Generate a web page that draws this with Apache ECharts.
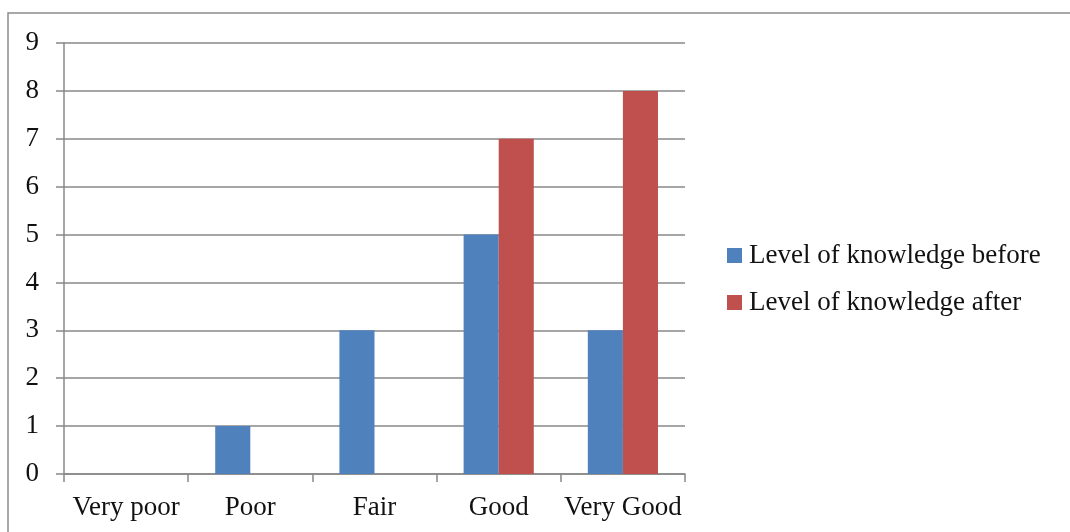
<!DOCTYPE html>
<html>
<head>
<meta charset="utf-8">
<script src="https://cdn.jsdelivr.net/npm/echarts@6/dist/echarts.min.js"></script>
<style>
  html, body { margin: 0; padding: 0; background: #fff; }
  #chart { width: 1070px; height: 532px; }
</style>
</head>
<body>
<div id="chart"></div>
<script>
// Knowledge ratings before and after
const categories = ['Very poor', 'Poor', 'Fair', 'Good', 'Very Good'];
const before = [0, 1, 3, 5, 3];
const after = [0, 0, 0, 7, 8];
const seriesNames = ['Level of knowledge before', 'Level of knowledge after'];

const FONT = 'Liberation Serif';
const GRID = '#888888';
const TEXT = '#111111';

const chart = echarts.init(document.getElementById('chart'), null, { renderer: 'canvas' });
chart.setOption({
  animation: false,
  backgroundColor: '#ffffff',
  textStyle: { fontFamily: FONT },
  graphic: [{
    type: 'rect',
    silent: true,
    shape: { x: 8, y: 13, width: 1200, height: 700 },
    style: { fill: 'none', stroke: '#8c8c8c', lineWidth: 1.5 }
  }],
  grid: { left: 64, right: 385, top: 43, bottom: 58, containLabel: false },
  legend: {
    orient: 'vertical',
    left: 722,
    top: 237,
    itemWidth: 15,
    itemHeight: 15,
    itemGap: 20,
    icon: 'rect',
    textStyle: { fontFamily: FONT, fontSize: 27, color: TEXT, padding: [0, 0, 0, 2] },
    data: seriesNames
  },
  xAxis: {
    type: 'category',
    data: categories,
    boundaryGap: true,
    axisLine: { lineStyle: { color: GRID, width: 1.5 } },
    axisTick: { show: true, length: 8, interval: 0, alignWithLabel: false, lineStyle: { color: GRID, width: 1.5 } },
    axisLabel: { interval: 0, fontFamily: FONT, fontSize: 27, color: TEXT, margin: 20 },
    splitLine: { show: false }
  },
  yAxis: {
    type: 'value',
    min: 0,
    max: 9,
    interval: 1,
    axisLine: { show: true, lineStyle: { color: GRID, width: 1.5 } },
    axisTick: { show: true, length: 8, lineStyle: { color: GRID, width: 1.5 } },
    axisLabel: { fontFamily: FONT, fontSize: 27, color: TEXT, margin: 25 },
    splitLine: { show: true, lineStyle: { color: GRID, width: 1.5 } }
  },
  series: [
    {
      name: seriesNames[0],
      type: 'bar',
      data: before,
      barGap: '0%',
      barCategoryGap: '43.5%',
      itemStyle: { color: '#4F81BD' }
    },
    {
      name: seriesNames[1],
      type: 'bar',
      data: after,
      barGap: '0%',
      barCategoryGap: '43.5%',
      itemStyle: { color: '#C0504D' }
    }
  ]
});
</script>
</body>
</html>
